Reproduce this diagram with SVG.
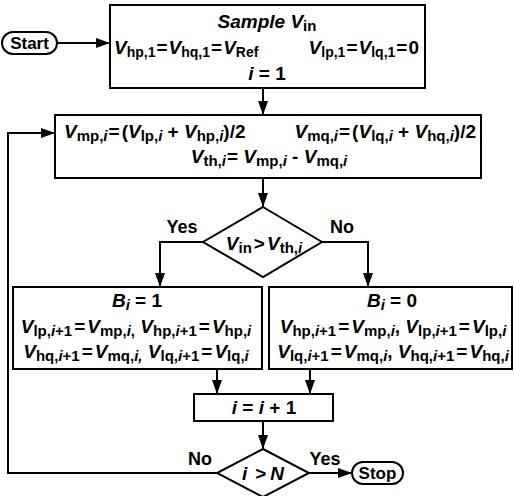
<svg xmlns="http://www.w3.org/2000/svg" width="514" height="496" viewBox="0 0 514 496">
<defs>
<marker id="ah" markerWidth="14" markerHeight="10" refX="13" refY="5" orient="auto" markerUnits="userSpaceOnUse">
<path d="M0,0 L14,5 L0,10 Z" fill="#000"/>
</marker>
</defs>
<style>
text{font-family:"Liberation Sans",Arial,Helvetica,sans-serif;font-weight:bold;font-size:19px;fill:#000}
.s{font-size:15px}
.s14{font-size:14px}
.i{font-style:italic}
.box{fill:#fff;stroke:#000;stroke-width:2}
.ln{fill:none;stroke:#000;stroke-width:2}
.lbl{font-size:18px}
.pill{font-size:17px}
</style>
<rect width="514" height="496" fill="#fff"/>

<g id="connectors">
<path class="ln" d="M57,43 H109" marker-end="url(#ah)"/>
<path class="ln" d="M263,88 V114" marker-end="url(#ah)"/>
<path class="ln" d="M263,178 V206" marker-end="url(#ah)"/>
<path class="ln" d="M203,242 H160 V286" marker-end="url(#ah)"/>
<path class="ln" d="M322,242 H368 V286" marker-end="url(#ah)"/>
<path class="ln" d="M217,369 V393" marker-end="url(#ah)"/>
<path class="ln" d="M310,369 V393" marker-end="url(#ah)"/>
<path class="ln" d="M263,421 V448" marker-end="url(#ah)"/>
<path class="ln" d="M217,473 H8 V133 H54" marker-end="url(#ah)"/>
<path class="ln" d="M309,473 H351" marker-end="url(#ah)"/>
<text class="lbl" x="182" y="233" text-anchor="middle">Yes</text>
<text class="lbl" x="342" y="233" text-anchor="middle">No</text>
<text class="lbl" x="200" y="465" text-anchor="middle">No</text>
<text class="lbl" x="325" y="465" text-anchor="middle">Yes</text>
</g>

<g id="start">
<rect x="2" y="32" width="55" height="22" rx="11" class="box"/>
<text class="pill" x="29.5" y="49" text-anchor="middle">Start</text>
</g>

<g id="init">
<rect x="110" y="5" width="315" height="83" class="box"/>
<text x="267" y="28" text-anchor="middle"><tspan class="i">Sample V</tspan><tspan class="s" dy="3">in</tspan></text>
<text x="114" y="54"><tspan class="i">V</tspan><tspan class="s14" dy="3">hp,1</tspan><tspan dy="-3" dx="1">=</tspan><tspan class="i" dx="1">V</tspan><tspan class="s14" dy="3">hq,1</tspan><tspan dy="-3" dx="1">=</tspan><tspan class="i" dx="1">V</tspan><tspan class="s14" dy="3">Ref</tspan></text>
<text x="419" y="54" text-anchor="end"><tspan class="i">V</tspan><tspan class="s14" dy="3">lp,1</tspan><tspan dy="-3" dx="1">=</tspan><tspan class="i" dx="1">V</tspan><tspan class="s14" dy="3">lq,1</tspan><tspan dy="-3" dx="1">=</tspan><tspan dx="1">0</tspan></text>
<text x="267" y="80" text-anchor="middle"><tspan class="i">i</tspan> = 1</text>
</g>

<g id="mid">
<rect x="55" y="115" width="426" height="63" class="box"/>
<text x="64" y="138"><tspan class="i">V</tspan><tspan class="s" dy="3">mp,<tspan class="i">i</tspan></tspan><tspan dy="-3" dx="1">=</tspan><tspan dx="2">(</tspan><tspan class="i">V</tspan><tspan class="s" dy="3">lp,<tspan class="i">i</tspan></tspan><tspan dy="-3"> + </tspan><tspan class="i">V</tspan><tspan class="s" dy="3">hp,<tspan class="i">i</tspan></tspan><tspan dy="-3">)/2</tspan></text>
<text x="476" y="138" text-anchor="end"><tspan class="i">V</tspan><tspan class="s" dy="3">mq,<tspan class="i">i</tspan></tspan><tspan dy="-3" dx="1">=</tspan><tspan dx="2">(</tspan><tspan class="i">V</tspan><tspan class="s" dy="3">lq,<tspan class="i">i</tspan></tspan><tspan dy="-3"> + </tspan><tspan class="i">V</tspan><tspan class="s" dy="3">hq,<tspan class="i">i</tspan></tspan><tspan dy="-3">)/2</tspan></text>
<text x="269" y="163" text-anchor="middle"><tspan class="i">V</tspan><tspan class="s" dy="3">th,<tspan class="i">i</tspan></tspan><tspan dy="-3" dx="1">= </tspan><tspan class="i">V</tspan><tspan class="s" dy="3">mp,<tspan class="i">i</tspan></tspan><tspan dy="-3"> - </tspan><tspan class="i">V</tspan><tspan class="s" dy="3">mq,<tspan class="i">i</tspan></tspan></text>
</g>

<g id="cmp">
<polygon points="263,207 322,242 263,277 203,242" class="box"/>
<text x="264" y="250" text-anchor="middle"><tspan class="i">V</tspan><tspan class="s" dy="3">in</tspan><tspan dy="-3" dx="2">&gt;</tspan><tspan class="i" dx="2">V</tspan><tspan class="s" dy="3">th,<tspan class="i">i</tspan></tspan></text>
</g>

<g id="yes-box">
<rect x="13" y="287" width="249" height="82" class="box"/>
<text x="137" y="307" text-anchor="middle"><tspan class="i">B</tspan><tspan class="s i" dy="3">i</tspan><tspan dy="-3"> = 1</tspan></text>
<text x="136" y="333" text-anchor="middle"><tspan class="i">V</tspan><tspan class="s" dy="3">lp,<tspan class="i">i</tspan>+1</tspan><tspan dy="-3" dx="2">=</tspan><tspan class="i" dx="2">V</tspan><tspan class="s" dy="3">mp,<tspan class="i">i</tspan>,</tspan><tspan dy="-3">  </tspan><tspan class="i">V</tspan><tspan class="s" dy="3">hp,<tspan class="i">i</tspan>+1</tspan><tspan dy="-3" dx="2">=</tspan><tspan class="i" dx="2">V</tspan><tspan class="s" dy="3">hp,<tspan class="i">i</tspan></tspan></text>
<text x="136" y="358" text-anchor="middle"><tspan class="i">V</tspan><tspan class="s" dy="3">hq,<tspan class="i">i</tspan>+1</tspan><tspan dy="-3" dx="2">=</tspan><tspan class="i" dx="2">V</tspan><tspan class="s" dy="3">mq,<tspan class="i">i,</tspan></tspan><tspan dy="-3">  </tspan><tspan class="i">V</tspan><tspan class="s" dy="3">lq,<tspan class="i">i</tspan>+1</tspan><tspan dy="-3" dx="2">=</tspan><tspan class="i" dx="2">V</tspan><tspan class="s" dy="3">lq,<tspan class="i">i</tspan></tspan></text>
</g>

<g id="no-box">
<rect x="269" y="287" width="243" height="82" class="box"/>
<text x="392" y="307" text-anchor="middle"><tspan class="i">B</tspan><tspan class="s i" dy="3">i</tspan><tspan dy="-3"> = 0</tspan></text>
<text x="393" y="333" text-anchor="middle"><tspan class="i">V</tspan><tspan class="s" dy="3">hp,<tspan class="i">i</tspan>+1</tspan><tspan dy="-3" dx="2">=</tspan><tspan class="i" dx="2">V</tspan><tspan class="s" dy="3">mp,<tspan class="i">i</tspan></tspan><tspan dy="-3">, </tspan><tspan class="i">V</tspan><tspan class="s" dy="3">lp,<tspan class="i">i</tspan>+1</tspan><tspan dy="-3" dx="2">=</tspan><tspan class="i" dx="2">V</tspan><tspan class="s" dy="3">lp,<tspan class="i">i</tspan></tspan></text>
<text x="393" y="358" text-anchor="middle"><tspan class="i">V</tspan><tspan class="s" dy="3">lq,<tspan class="i">i</tspan>+1</tspan><tspan dy="-3" dx="2">=</tspan><tspan class="i" dx="2">V</tspan><tspan class="s" dy="3">mq,<tspan class="i">i</tspan></tspan><tspan dy="-3">, </tspan><tspan class="i">V</tspan><tspan class="s" dy="3">hq,<tspan class="i">i</tspan>+1</tspan><tspan dy="-3" dx="2">=</tspan><tspan class="i" dx="2">V</tspan><tspan class="s" dy="3">hq,<tspan class="i">i</tspan></tspan></text>
</g>

<g id="inc">
<rect x="194" y="394" width="139" height="27" class="box"/>
<text x="264" y="414" text-anchor="middle"><tspan class="i">i</tspan> = <tspan class="i">i</tspan> + 1</text>
</g>

<g id="done">
<polygon points="263,449 309,473 263,497 217,473" class="box"/>
<text x="263" y="480" text-anchor="middle"><tspan class="i">i</tspan><tspan dx="8">&gt;</tspan><tspan class="i" dx="4">N</tspan></text>
</g>

<g id="stop">
<rect x="352" y="462" width="51" height="22" rx="11" class="box"/>
<text class="pill" x="377.5" y="479" text-anchor="middle">Stop</text>
</g>
</svg>
